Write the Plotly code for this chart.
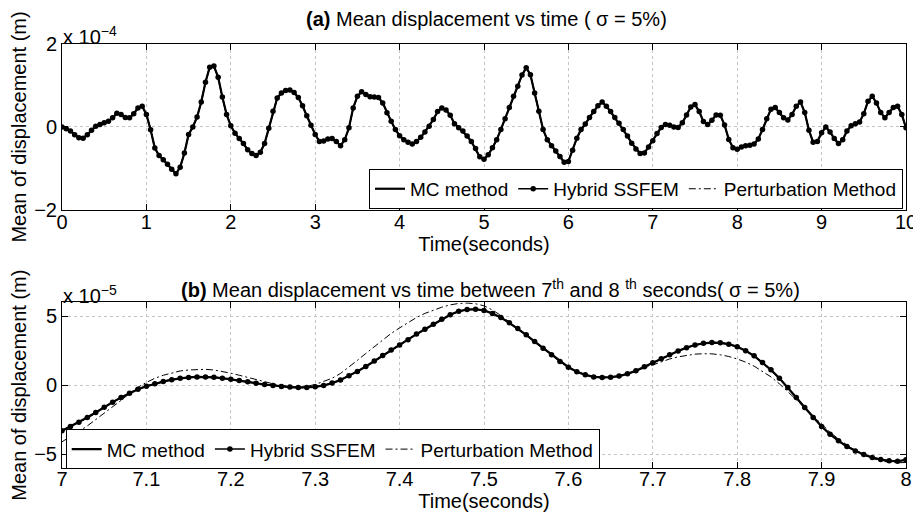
import numpy as np
import plotly.graph_objects as go
from plotly.subplots import make_subplots

# ---------------- data ----------------
# Panel (a): time grid 0..10 s every 0.05 s, mean displacement in units of 1e-4 m
t_top = [round(0.05 * i, 2) for i in range(201)]
mc_top = [
    0.00, -0.04, -0.10, -0.19, -0.26, -0.27, -0.19, -0.08, 0.02, 0.06,      # 0.00-0.45
    0.10, 0.14, 0.22, 0.33, 0.30, 0.23, 0.22, 0.32, 0.46, 0.50,             # 0.50-0.95
    0.30, -0.07, -0.51, -0.69, -0.79, -0.90, -1.02, -1.13, -0.97, -0.63,    # 1.00-1.45
    -0.18, 0.00, 0.24, 0.60, 1.08, 1.44, 1.47, 1.20, 0.72, 0.30,            # 1.50-1.95
    0.03, -0.15, -0.28, -0.40, -0.55, -0.64, -0.69, -0.61, -0.40, -0.03,    # 2.00-2.45
    0.38, 0.70, 0.82, 0.88, 0.89, 0.83, 0.71, 0.51, 0.27, 0.04,             # 2.50-2.95
    -0.18, -0.35, -0.34, -0.29, -0.28, -0.35, -0.45, -0.31, -0.02, 0.46,    # 3.00-3.45
    0.74, 0.85, 0.78, 0.73, 0.72, 0.71, 0.58, 0.34, 0.14, -0.06,            # 3.50-3.95
    -0.21, -0.31, -0.37, -0.41, -0.35, -0.25, -0.12, 0.02, 0.18, 0.37,      # 4.00-4.45
    0.46, 0.41, 0.28, 0.08, -0.02, -0.10, -0.22, -0.35, -0.52, -0.72,       # 4.50-4.95
    -0.78, -0.67, -0.50, -0.31, -0.06, 0.20, 0.47, 0.74, 0.98, 1.25,        # 5.00-5.45
    1.43, 1.26, 0.82, 0.38, -0.06, -0.31, -0.45, -0.58, -0.71, -0.85,       # 5.50-5.95
    -0.83, -0.56, -0.27, -0.06, 0.07, 0.23, 0.37, 0.51, 0.60, 0.50,         # 6.00-6.45
    0.37, 0.23, 0.09, -0.06, -0.22, -0.39, -0.53, -0.64, -0.63, -0.48,      # 6.50-6.95
    -0.33, -0.16, -0.01, 0.06, 0.04, 0.00, -0.01, 0.10, 0.29, 0.48,         # 7.00-7.45
    0.54, 0.37, 0.13, 0.06, 0.16, 0.29, 0.28, 0.05, -0.30, -0.50,           # 7.50-7.95
    -0.54, -0.48, -0.45, -0.44, -0.41, -0.29, -0.06, 0.20, 0.43, 0.47,      # 8.00-8.45
    0.35, 0.22, 0.17, 0.30, 0.50, 0.60, 0.35, -0.08, -0.37, -0.35,          # 8.50-8.95
    -0.14, 0.00, -0.12, -0.28, -0.40, -0.31, -0.10, 0.03, 0.08, 0.12,       # 9.00-9.45
    0.32, 0.62, 0.74, 0.58, 0.35, 0.22, 0.35, 0.47, 0.50, 0.30,             # 9.50-9.95
    -0.02,                                                                  # 10.00
]
hybrid_top = mc_top
pert_top = mc_top

# Panel (b): 7..8 s every 0.01 s, mean displacement in units of 1e-5 m
t_bot = [round(7 + 0.01 * i, 2) for i in range(101)]
mc_bot = [
    -3.31, -3.00, -2.68, -2.34, -1.98, -1.59, -1.23, -0.89, -0.58, -0.29,
    -0.08, 0.10, 0.26, 0.40, 0.50, 0.56, 0.60, 0.60, 0.57, 0.51,
    0.43, 0.34, 0.24, 0.14, 0.05, -0.02, -0.09, -0.14, -0.17, -0.17,
    -0.12, -0.02, 0.15, 0.38, 0.68, 1.00, 1.35, 1.75, 2.15, 2.55,
    2.92, 3.30, 3.70, 4.05, 4.42, 4.78, 5.10, 5.35, 5.48, 5.50,
    5.42, 5.20, 4.90, 4.52, 4.10, 3.65, 3.16, 2.68, 2.20, 1.72,
    1.30, 0.98, 0.75, 0.60, 0.56, 0.58, 0.66, 0.82, 1.04, 1.33,
    1.63, 1.91, 2.20, 2.48, 2.72, 2.91, 3.03, 3.09, 3.07, 2.97,
    2.78, 2.49, 2.13, 1.64, 1.11, 0.51, -0.17, -0.89, -1.62, -2.34,
    -3.00, -3.55, -4.03, -4.44, -4.76, -5.03, -5.24, -5.39, -5.48, -5.51,
    -5.41,
]
hybrid_bot = mc_bot
pert_bot = [
    -4.10, -3.75, -3.35, -2.95, -2.50, -2.05, -1.60, -1.10, -0.60, -0.15,
    0.20, 0.50, 0.72, 0.90, 1.03, 1.10, 1.15, 1.15, 1.10, 1.00,
    0.87, 0.72, 0.56, 0.40, 0.24, 0.10, -0.02, -0.10, -0.12, -0.08,
    0.05, 0.25, 0.50, 0.85, 1.30, 1.80, 2.30, 2.80, 3.30, 3.75,
    4.15, 4.55, 4.90, 5.20, 5.45, 5.65, 5.82, 5.92, 5.95, 5.90,
    5.75, 5.45, 5.05, 4.60, 4.12, 3.65, 3.15, 2.65, 2.15, 1.70,
    1.30, 0.98, 0.75, 0.60, 0.55, 0.58, 0.67, 0.82, 1.02, 1.25,
    1.48, 1.70, 1.90, 2.05, 2.17, 2.25, 2.28, 2.27, 2.20, 2.08,
    1.90, 1.67, 1.38, 1.02, 0.60, 0.10, -0.45, -1.05, -1.65, -2.25,
    -2.85, -3.40, -3.90, -4.35, -4.75, -5.05, -5.30, -5.48, -5.58, -5.62,
    -5.60,
]

series_names = ["MC method", "Hybrid SSFEM", "Perturbation Method"]
top_xticks = list(range(0, 11))
top_yticks = [-2, 0, 2]
bot_xticks = [7, 7.1, 7.2, 7.3, 7.4, 7.5, 7.6, 7.7, 7.8, 7.9, 8]
bot_xticktext = ["7", "7.1", "7.2", "7.3", "7.4", "7.5", "7.6", "7.7", "7.8", "7.9", "8"]
bot_yticks = [-5, 0, 5]

title_a = "<b>(a)</b> Mean displacement vs time ( σ = 5%)"
title_b = ("<b>(b)</b> Mean displacement vs time between "
           "7<sup>th</sup> and 8 <sup>th</sup> seconds( σ = 5%)")

# ---------------- figure ----------------
# The page body has an 8px margin, so the figure is drawn 8px right/down of the window corner.
OFF = 8
FONT = "Liberation Sans, Arial, Helvetica, sans-serif"
W, H = 921 - OFF, 518 - OFF
PX0, PX1 = 62.3 - OFF, 906 - OFF          # plot left / right (figure px)
TOP_Y0, TOP_Y1 = 44.3 - OFF, 210 - OFF    # top panel top / bottom
BOT_Y0, BOT_Y1 = 302.3 - OFF, 467.7 - OFF # bottom panel top / bottom
L, R, T, B = PX0, W - PX1, TOP_Y0, H - BOT_Y1
ph = H - T - B
pw = W - L - R

def py(y_screen):
    return (H - B - (y_screen - OFF)) / ph

def pxx(x_screen):
    return ((x_screen - OFF) - L) / pw

fig = make_subplots(rows=2, cols=1)

DASHDOT = "7px,3px,2px,3px"

def add_panel(row, t, mc, hy, pe, legend):
    fig.add_trace(go.Scatter(x=t, y=mc, mode="lines", name=series_names[0],
                             line=dict(color="black", width=2.2), legend=legend),
                  row=row, col=1)
    fig.add_trace(go.Scatter(x=t, y=hy, mode="lines+markers", name=series_names[1],
                             line=dict(color="black", width=1.5),
                             marker=dict(color="black", size=5.5, symbol="circle"),
                             legend=legend),
                  row=row, col=1)
    fig.add_trace(go.Scatter(x=t, y=pe, mode="lines", name=series_names[2],
                             line=dict(color="black", width=1, dash=DASHDOT),
                             legend=legend),
                  row=row, col=1)

add_panel(1, t_top, mc_top, hybrid_top, pert_top, "legend")
add_panel(2, t_bot, mc_bot, hybrid_bot, pert_bot, "legend2")

axis_common = dict(showline=True, linecolor="black", linewidth=1, mirror="ticks",
                   ticks="inside", ticklen=6, tickcolor="black", automargin=False,
                   showgrid=True, gridcolor="#c4c4c4", griddash="dot", gridwidth=1,
                   zeroline=False, tickfont=dict(size=20, color="black", family=FONT))

top_dom = [py(210), 1.0]
bot_dom = [0.0, py(302.3)]

fig.update_xaxes(**axis_common, row=1, col=1, range=[0, 10], tickvals=top_xticks,
                 ticklabelstandoff=-6,
                 title=dict(text="Time(seconds)", font=dict(size=20, color="black"), standoff=0))
fig.update_yaxes(**axis_common, row=1, col=1, range=[-2, 2], tickvals=top_yticks,
                 ticktext=["\u22122", "0", "2"], domain=top_dom,
                 title=dict(text="Mean of displacement (m)", font=dict(size=20, color="black"), standoff=5))
fig.update_xaxes(**axis_common, row=2, col=1, range=[7, 8], tickvals=bot_xticks,
                 ticktext=bot_xticktext, ticklabelstandoff=-7,
                 title=dict(text="Time(seconds)", font=dict(size=20, color="black"), standoff=0))
fig.update_yaxes(**axis_common, row=2, col=1, range=[-6, 6], tickvals=bot_yticks,
                 ticktext=["\u22125", "0", "5"], domain=bot_dom,
                 title=dict(text="Mean of displacement (m)", font=dict(size=20, color="black"), standoff=5))

legend_common = dict(orientation="h", bgcolor="white", bordercolor="black", borderwidth=1,
                     font=dict(size=19, color="black", family=FONT), tracegroupgap=0,
                     itemwidth=30)

fig.update_layout(
    width=W, height=H,
    margin=dict(l=L, r=R, t=T, b=B, autoexpand=False),
    paper_bgcolor="white", plot_bgcolor="white",
    font=dict(family=FONT, size=20, color="black"),
    legend=dict(**legend_common, x=pxx(903), xanchor="right",
                y=py(189), yanchor="middle"),
    legend2=dict(**legend_common, x=pxx(66), xanchor="left",
                 y=py(449), yanchor="middle"),
    showlegend=True,
)

annots = [
    dict(text=title_a, x=pxx(487), y=py(19), xref="paper", yref="paper",
         showarrow=False, xanchor="center", yanchor="middle", font=dict(size=20)),
    dict(text=title_b, x=pxx(491), y=py(288), xref="paper", yref="paper",
         showarrow=False, xanchor="center", yanchor="middle", font=dict(size=20)),
    dict(text="x 10<sup>\u22124</sup>", x=pxx(61), y=py(50), xref="paper", yref="paper",
         showarrow=False, xanchor="left", yanchor="bottom", font=dict(size=20)),
    dict(text="x 10<sup>\u22125</sup>", x=pxx(61), y=py(309), xref="paper", yref="paper",
         showarrow=False, xanchor="left", yanchor="bottom", font=dict(size=20)),
]
fig.update_layout(annotations=annots)

fig.write_html("out.html")
